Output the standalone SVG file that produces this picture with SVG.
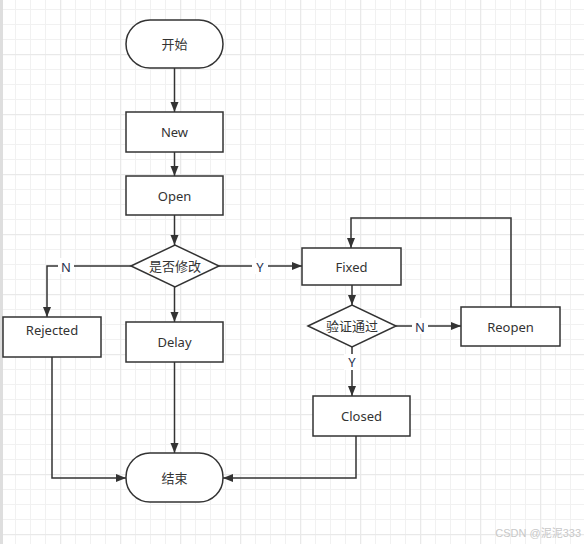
<svg xmlns="http://www.w3.org/2000/svg" width="584" height="544" viewBox="0 0 584 544">
<defs>
<pattern id="minor" width="15" height="15" patternUnits="userSpaceOnUse" x="0" y="9">
<path d="M0 0.5H15M0.5 0V15" stroke="#f1f1f1" stroke-width="1" fill="none"/>
</pattern>
<pattern id="major" width="60" height="60" patternUnits="userSpaceOnUse" x="0" y="54">
<path d="M0 0.5H60M0.5 0V60" stroke="#e9e9e9" stroke-width="1.6" fill="none"/>
</pattern>
<marker id="arr" viewBox="0 0 10 10" refX="10" refY="5" markerWidth="10" markerHeight="10" markerUnits="userSpaceOnUse" orient="auto">
<path d="M0 1L10 5L0 9Z" fill="#333"/>
</marker>
</defs>
<style>
.n{fill:#fff;stroke:#333;stroke-width:1.5}
.t{font-family:"Noto Sans","Noto Sans CJK SC",sans-serif;font-size:13px;fill:#333;text-anchor:middle;dominant-baseline:central}
.c path{fill:none;stroke:#333;stroke-width:1.5}
.lbl{font-family:"Noto Sans",sans-serif;font-size:13px;fill:#2a3550;text-anchor:middle;dominant-baseline:central}
</style>
<rect width="584" height="544" fill="#fff"/>
<rect width="584" height="544" fill="url(#minor)"/>
<rect width="584" height="544" fill="url(#major)"/>
<rect x="0" y="0" width="3" height="544" fill="#dedede"/>

<g class="c" id="connectors">
<path d="M174.5 68V112" marker-end="url(#arr)"/>
<path d="M174.5 152V176" marker-end="url(#arr)"/>
<path d="M174.5 215V245" marker-end="url(#arr)"/>
<path d="M131 266H47V317" marker-end="url(#arr)"/>
<path d="M219 266H302" marker-end="url(#arr)"/>
<path d="M174.5 287V322" marker-end="url(#arr)"/>
<path d="M52 357V478H126" marker-end="url(#arr)"/>
<path d="M174.5 362V453" marker-end="url(#arr)"/>
<path d="M356 436V478H223" marker-end="url(#arr)"/>
<path d="M352 285V305" marker-end="url(#arr)"/>
<path d="M396 326H461" marker-end="url(#arr)"/>
<path d="M352 347V396" marker-end="url(#arr)"/>
<path d="M511 307V218H351V248" marker-end="url(#arr)"/>
<rect x="58" y="258" width="16" height="16" fill="#fff" stroke="none"/>
<text class="lbl" x="66" y="267">N</text>
<rect x="252" y="258" width="16" height="16" fill="#fff" stroke="none"/>
<text class="lbl" x="260" y="267">Y</text>
<rect x="412" y="318" width="16" height="16" fill="#fff" stroke="none"/>
<text class="lbl" x="420" y="327">N</text>
<rect x="344" y="354" width="16" height="16" fill="#fff" stroke="none"/>
<text class="lbl" x="352" y="362">Y</text>
</g>

<g id="start"><rect class="n" x="126" y="20" width="97" height="48" rx="24"/><text class="t" x="174.5" y="44">开始</text></g>
<g id="new"><rect class="n" x="126" y="112" width="97" height="40"/><text class="t" x="174.5" y="132">New</text></g>
<g id="open"><rect class="n" x="126" y="176" width="97" height="39"/><text class="t" x="174.5" y="195.5">Open</text></g>
<g id="modify"><path class="n" d="M131 266L175 245L219 266L175 287Z"/><text class="t" x="175" y="266">是否修改</text></g>
<g id="rejected"><rect class="n" x="3" y="317" width="98" height="40"/><text class="t" x="52" y="330">Rejected</text></g>
<g id="delay"><rect class="n" x="126" y="322" width="97" height="40"/><text class="t" x="174.5" y="342">Delay</text></g>
<g id="fixed"><rect class="n" x="302" y="248" width="99" height="37"/><text class="t" x="351.5" y="266.5">Fixed</text></g>
<g id="verify"><path class="n" d="M308 326L352 305L396 326L352 347Z"/><text class="t" x="352" y="326">验证通过</text></g>
<g id="reopen"><rect class="n" x="461" y="307" width="99" height="39"/><text class="t" x="510.5" y="326.5">Reopen</text></g>
<g id="closed"><rect class="n" x="313" y="396" width="97" height="40"/><text class="t" x="361.5" y="416">Closed</text></g>
<g id="end"><rect class="n" x="126" y="453" width="97" height="49" rx="24"/><text class="t" x="174.5" y="477.5">结束</text></g>

<text x="581" y="533" font-family="'Liberation Sans','Noto Sans CJK SC',sans-serif" font-size="11" fill="#c8c8c8" text-anchor="end" dominant-baseline="central">CSDN @泥泥333</text>
</svg>
